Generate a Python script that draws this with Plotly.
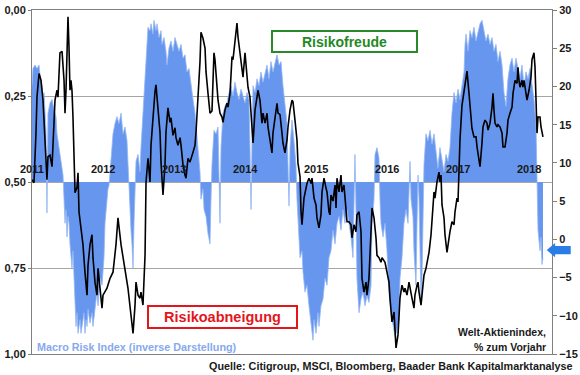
import plotly.graph_objects as go

# ---------------- data ----------------
# Welt-Aktienindex, % zum Vorjahr (right axis); time in decimal years
LINE_T = [
 2011.000,2011.028,2011.056,2011.070,2011.099,2011.127,2011.155,2011.169,2011.197,2011.211,2011.225,2011.254,2011.282,2011.310,2011.324,2011.352,2011.366,2011.394,2011.423,2011.451,2011.465,2011.479,2011.493,2011.507,2011.521,2011.535,2011.549,2011.563,2011.577,2011.592,2011.606,2011.634,2011.648,2011.662,2011.704,2011.718,2011.746,2011.775,2011.789,2011.817,2011.845,2011.859,2011.887,2011.915,2011.930,2011.958,2011.986,
 2012.000,2012.056,2012.099,2012.141,2012.183,2012.211,2012.254,2012.310,2012.352,2012.394,2012.423,2012.451,2012.465,2012.493,2012.521,2012.535,2012.563,2012.592,2012.606,2012.634,2012.662,2012.676,2012.704,2012.732,2012.746,2012.775,2012.803,2012.817,2012.831,2012.845,2012.873,2012.887,2012.915,2012.944,2012.958,2012.986,
 2013.014,2013.028,2013.056,2013.085,2013.099,2013.127,2013.155,2013.169,2013.197,2013.225,2013.268,2013.296,2013.310,2013.338,2013.366,2013.380,2013.408,2013.437,2013.451,2013.479,2013.507,2013.535,2013.549,2013.563,2013.577,2013.606,2013.620,2013.648,2013.676,2013.690,2013.718,2013.746,2013.761,2013.789,2013.817,2013.831,2013.859,2013.887,2013.901,2013.930,2013.958,2013.972,
 2014.000,2014.028,2014.042,2014.070,2014.099,2014.113,2014.127,2014.141,2014.169,2014.183,2014.211,2014.239,2014.254,2014.282,2014.310,2014.324,2014.352,2014.380,2014.394,2014.423,2014.451,2014.465,2014.493,2014.521,2014.535,2014.563,2014.592,2014.606,2014.634,2014.662,2014.676,2014.704,2014.732,2014.746,2014.775,2014.789,2014.803,2014.831,2014.859,2014.873,2014.901,2014.930,2014.944,2014.972,
 2015.000,2015.014,2015.042,2015.070,2015.085,2015.113,2015.141,2015.155,2015.183,2015.197,2015.211,2015.239,2015.268,2015.282,2015.296,2015.324,2015.352,2015.366,2015.394,2015.423,2015.437,2015.465,2015.493,2015.507,2015.535,2015.563,2015.577,2015.606,2015.634,2015.648,2015.676,2015.704,2015.718,2015.746,2015.775,2015.789,2015.817,2015.845,2015.859,2015.887,2015.915,2015.930,2015.972,
 2016.000,2016.028,2016.042,2016.070,2016.099,2016.113,2016.127,2016.155,2016.169,2016.183,2016.211,2016.239,2016.254,2016.282,2016.310,2016.324,2016.352,2016.380,2016.394,2016.423,2016.437,2016.451,2016.479,2016.507,2016.521,2016.549,2016.577,2016.592,2016.620,2016.648,2016.662,2016.676,2016.704,2016.732,2016.746,2016.761,2016.775,2016.803,2016.817,2016.845,2016.873,2016.887,2016.915,2016.944,2016.958,2016.986,
 2017.000,2017.014,2017.028,2017.056,2017.085,2017.099,2017.127,2017.155,2017.169,2017.197,2017.225,2017.254,2017.268,2017.296,2017.310,2017.338,2017.352,2017.380,2017.408,2017.423,2017.451,2017.479,2017.493,2017.507,2017.521,2017.549,2017.563,2017.592,2017.620,2017.634,2017.662,2017.690,2017.704,2017.732,2017.761,2017.775,2017.803,2017.831,2017.845,2017.859,2017.873,2017.901,2017.915,2017.930,2017.958,2017.972,
 2018.000,2018.028,2018.042,2018.070,2018.085,2018.099,2018.113,2018.127,2018.155,2018.169,2018.197,
]
LINE_V = [
 7.8,7.4,13.9,18.6,21.7,20.8,18.2,15.6,11.7,7.8,10.8,11.0,9.5,14.7,18.2,19.5,18.6,24.4,24.6,20.8,16.5,19.5,26.1,29.1,25.2,19.5,20.8,19.5,16.0,10.8,6.1,6.8,8.7,3.6,0.6,-0.7,-4.3,-7.3,-3.4,-0.7,0.6,-2.4,-5.6,-7.3,-3.8,-6.4,-9.0,
 -7.3,-6.4,-5.1,-4.3,-0.7,2.8,-0.7,-4.3,-6.4,-9.9,-12.3,-8.6,-5.6,-7.3,-7.7,-6.9,-8.6,-2.1,7.5,10.6,7.5,12.3,16.3,19.3,20.2,17.2,14.0,10.1,7.5,5.8,9.7,14.0,17.2,15.3,15.9,13.6,
 14.6,13.3,12.3,13.3,12.3,9.7,8.4,8.0,10.6,10.1,11.4,12.3,14.0,18.5,23.2,27.1,26.3,25.0,21.9,19.1,16.5,16.8,21.7,24.4,23.5,19.9,18.2,16.5,16.0,15.3,16.9,17.8,17.3,19.1,23.9,23.5,26.1,28.3,26.5,24.4,22.5,21.2,
 24.4,21.2,19.9,18.6,15.2,12.6,14.7,16.9,18.6,19.5,18.2,15.2,16.5,15.2,16.5,14.7,13.0,11.3,13.9,16.0,17.8,16.5,16.3,13.9,12.6,11.3,13.0,14.7,16.9,18.2,18.0,15.6,13.0,10.0,8.2,3.6,1.9,5.4,7.1,7.3,8.0,7.3,8.0,5.4,
 4.5,2.8,1.5,3.2,6.2,8.0,6.7,6.2,3.6,3.2,5.8,5.0,7.1,4.1,8.0,6.2,8.4,6.2,7.1,4.5,2.3,2.3,1.9,0.2,1.9,1.0,3.2,3.6,1.0,-5.1,-6.9,-5.6,-7.3,-5.1,0.2,4.1,2.8,0.2,-2.1,-2.4,-3.0,-2.4,-3.0,
 -4.3,-5.6,-7.7,-10.8,-9.5,-12.9,-14.2,-12.5,-9.9,-7.7,-6.0,-6.9,-6.4,-7.3,-5.6,-6.4,-7.7,-9.0,-7.3,-6.0,-5.6,-6.9,-8.6,-6.0,-4.7,-3.8,-2.4,-1.7,0.6,3.6,6.2,5.4,7.5,8.8,7.5,8.4,4.5,2.8,0.6,-1.7,0.6,1.0,2.3,1.9,3.6,5.4,
 4.9,8.8,13.0,17.5,19.3,20.3,22.0,19.1,17.6,14.5,13.4,13.4,12.1,10.0,9.5,12.6,14.7,15.6,15.2,14.3,15.2,17.3,19.1,16.9,15.2,14.7,15.0,14.7,13.9,12.1,12.1,13.9,15.6,16.5,17.3,19.1,20.8,20.4,22.5,20.8,19.9,20.8,19.9,20.8,19.1,18.2,
 19.5,21.2,23.5,24.4,22.5,18.2,13.9,16.0,16.0,14.7,13.4,
]

# Macro Risk Index (inverse Darstellung), left axis 0..1
BLUE_T = [
 2011.000,2011.014,2011.042,2011.070,2011.099,2011.113,2011.141,2011.155,2011.169,2011.183,2011.197,2011.211,2011.225,2011.254,2011.282,2011.310,2011.338,2011.352,2011.380,2011.408,2011.423,2011.437,2011.451,2011.465,2011.479,2011.493,2011.507,2011.521,2011.535,2011.549,2011.563,2011.577,2011.592,2011.606,2011.620,2011.634,2011.648,2011.676,2011.690,2011.704,2011.732,2011.746,2011.761,2011.775,2011.789,2011.817,2011.845,2011.859,2011.887,2011.915,2011.930,2011.958,2011.986,
 2012.014,2012.028,2012.042,2012.056,2012.070,2012.085,2012.099,2012.113,2012.141,2012.169,2012.197,2012.225,2012.254,2012.282,2012.310,2012.338,2012.352,2012.366,2012.380,2012.394,2012.408,2012.423,2012.437,2012.451,2012.465,2012.493,2012.521,2012.535,2012.563,2012.592,2012.606,2012.620,2012.634,2012.662,2012.676,2012.704,2012.718,2012.746,2012.761,2012.789,2012.817,2012.831,2012.859,2012.887,2012.901,2012.930,2012.958,2012.986,
 2013.014,2013.042,2013.070,2013.099,2013.127,2013.155,2013.183,2013.211,2013.239,2013.268,2013.296,2013.324,2013.352,2013.366,2013.380,2013.408,2013.423,2013.451,2013.479,2013.507,2013.521,2013.535,2013.563,2013.592,2013.620,2013.634,2013.648,2013.662,2013.690,2013.718,2013.746,2013.775,2013.803,2013.831,2013.859,2013.887,2013.915,2013.944,2013.972,
 2014.000,2014.028,2014.056,2014.070,2014.085,2014.099,2014.113,2014.141,2014.169,2014.197,2014.225,2014.254,2014.282,2014.310,2014.338,2014.366,2014.394,2014.423,2014.451,2014.479,2014.507,2014.535,2014.563,2014.592,2014.606,2014.620,2014.634,2014.662,2014.690,2014.718,2014.732,2014.761,2014.775,2014.803,2014.817,2014.845,2014.873,2014.901,2014.930,2014.958,2014.972,
 2015.000,2015.028,2015.042,2015.070,2015.099,2015.127,2015.155,2015.183,2015.211,2015.239,2015.268,2015.296,2015.324,2015.352,2015.380,2015.408,2015.437,2015.465,2015.493,2015.521,2015.535,2015.549,2015.563,2015.577,2015.606,2015.634,2015.662,2015.690,2015.718,2015.746,2015.775,2015.789,2015.817,2015.831,2015.859,2015.887,2015.901,2015.915,2015.944,2015.972,
 2016.000,2016.028,2016.056,2016.085,2016.113,2016.141,2016.169,2016.183,2016.211,2016.239,2016.268,2016.296,2016.310,2016.324,2016.338,2016.366,2016.380,2016.408,2016.423,2016.437,2016.451,2016.465,2016.479,2016.493,2016.507,2016.521,2016.549,2016.577,2016.606,2016.634,2016.662,2016.690,2016.718,2016.746,2016.775,2016.803,2016.831,2016.859,2016.887,2016.915,2016.944,2016.972,
 2017.000,2017.028,2017.056,2017.085,2017.099,2017.113,2017.141,2017.169,2017.197,2017.225,2017.254,2017.282,2017.310,2017.338,2017.366,2017.394,2017.423,2017.451,2017.479,2017.507,2017.535,2017.563,2017.592,2017.620,2017.648,2017.676,2017.704,2017.732,2017.761,2017.789,2017.817,2017.845,2017.873,2017.901,2017.930,2017.958,2017.986,
 2018.014,2018.042,2018.070,2018.099,2018.113,2018.127,2018.155,2018.169,2018.183,2018.197,
]
BLUE_V = [
 0.22,0.17,0.16,0.17,0.16,0.19,0.22,0.26,0.24,0.28,0.35,0.59,0.30,0.27,0.26,0.29,0.31,0.36,0.40,0.43,0.46,0.48,0.55,0.62,0.58,0.66,0.60,0.62,0.68,0.72,0.75,0.70,0.78,0.85,0.92,0.88,0.94,0.90,0.94,0.92,0.88,0.94,0.90,0.92,0.87,0.91,0.88,0.92,0.86,0.82,0.86,0.78,0.80,
 0.72,0.62,0.58,0.55,0.52,0.51,0.47,0.42,0.36,0.33,0.31,0.33,0.30,0.36,0.34,0.38,0.45,0.55,0.60,0.64,0.68,0.75,0.62,0.50,0.44,0.42,0.47,0.40,0.30,0.20,0.12,0.08,0.05,0.06,0.04,0.07,0.03,0.06,0.04,0.08,0.06,0.10,0.08,0.12,0.16,0.11,0.09,0.12,
 0.08,0.10,0.12,0.10,0.14,0.13,0.18,0.17,0.22,0.26,0.30,0.36,0.42,0.47,0.55,0.52,0.58,0.60,0.65,0.68,0.55,0.45,0.35,0.36,0.34,0.52,0.62,0.40,0.30,0.28,0.27,0.24,0.22,0.25,0.21,0.24,0.26,0.23,0.25,
 0.27,0.24,0.26,0.40,0.58,0.38,0.22,0.24,0.20,0.22,0.18,0.21,0.18,0.16,0.20,0.15,0.18,0.15,0.13,0.16,0.15,0.22,0.28,0.33,0.45,0.57,0.40,0.32,0.38,0.45,0.55,0.65,0.72,0.70,0.76,0.82,0.80,0.86,0.92,0.96,0.90,
 0.94,0.88,0.92,0.86,0.84,0.78,0.80,0.72,0.70,0.64,0.68,0.62,0.60,0.64,0.58,0.62,0.58,0.62,0.66,0.72,0.60,0.42,0.58,0.78,0.88,0.84,0.82,0.86,0.83,0.85,0.80,0.62,0.55,0.42,0.40,0.43,0.55,0.62,0.66,0.62,
 0.70,0.82,0.88,0.92,0.95,0.93,0.90,0.78,0.72,0.62,0.58,0.62,0.52,0.44,0.55,0.60,0.70,0.80,0.62,0.48,0.55,0.70,0.85,0.78,0.62,0.45,0.36,0.38,0.35,0.39,0.36,0.42,0.46,0.40,0.44,0.47,0.42,0.44,0.40,0.30,0.24,0.27,
 0.23,0.26,0.22,0.18,0.10,0.07,0.12,0.06,0.08,0.05,0.09,0.06,0.04,0.03,0.06,0.09,0.07,0.10,0.08,0.12,0.10,0.15,0.12,0.16,0.24,0.28,0.20,0.16,0.14,0.18,0.14,0.17,0.20,0.16,0.22,0.18,0.20,
 0.17,0.22,0.26,0.34,0.52,0.64,0.70,0.66,0.74,0.72,
]

YEARS = [2011, 2012, 2013, 2014, 2015, 2016, 2017, 2018]
LEFT_TICKS = [0, 0.25, 0.5, 0.75, 1]
LEFT_TEXT = ["0,00", "0,25", "0,50", "0,75", "1,00"]
BASELINE = 0.5

assert len(LINE_T) == len(LINE_V), (len(LINE_T), len(LINE_V))
assert len(BLUE_T) == len(BLUE_V), (len(BLUE_T), len(BLUE_V))

FONT = "Liberation Sans, Arial, sans-serif"
AXC = "#7f7f7f"

fig = go.Figure()
fig.add_trace(go.Scatter(x=BLUE_T, y=[BASELINE] * len(BLUE_T), mode="lines",
                         line=dict(width=0, color="rgba(0,0,0,0)"),
                         hoverinfo="skip", showlegend=False, yaxis="y"))
fig.add_trace(go.Scatter(x=BLUE_T, y=BLUE_V, mode="lines",
                         line=dict(width=0.8, color="#94b6f2"),
                         fill="tonexty", fillcolor="rgb(102,150,238)",
                         showlegend=False, yaxis="y"))
fig.add_trace(go.Scatter(x=LINE_T, y=LINE_V, mode="lines",
                         line=dict(color="black", width=1.6),
                         showlegend=False, yaxis="y2"))

tickfont = dict(family=FONT, size=11, color="#1a1a1a", weight="bold")

fig.update_layout(
    width=580, height=375,
    margin=dict(l=32, r=28, t=10, b=21, autoexpand=False),
    paper_bgcolor="white", plot_bgcolor="white",
    showlegend=False,
    font=dict(family=FONT),
    xaxis=dict(range=[2011, 2018.324], showticklabels=False, ticks="",
               showgrid=False, zeroline=False, showline=True, mirror=True,
               linecolor=AXC, linewidth=1, automargin=False),
    yaxis=dict(range=[1, 0], tickvals=LEFT_TICKS, ticktext=LEFT_TEXT,
               showgrid=True, gridcolor="#a6a6a6", gridwidth=1,
               zeroline=False, showline=True, linecolor=AXC, linewidth=1,
               ticks="outside", ticklen=3, tickcolor=AXC, tickfont=tickfont,
               automargin=False),
    yaxis2=dict(overlaying="y", side="right", range=[-15, 30], tick0=0, dtick=5,
                showgrid=False, zeroline=False, showline=True, linecolor=AXC,
                linewidth=1, ticks="outside", ticklen=4, tickcolor=AXC,
                tickfont=tickfont, automargin=False),
)

ann = []
for yr in YEARS:
    ann.append(dict(x=yr, y=BASELINE, xref="x", yref="y", text=str(yr),
                    showarrow=False, yshift=13, xanchor="center", yanchor="middle",
                    font=dict(family=FONT, size=11, color="#1a1a1a", weight="bold")))

ann.append(dict(x=0.601, y=0.908, xref="paper", yref="paper", text="Risikofreude",
                showarrow=False, xanchor="center", yanchor="middle",
                width=141, height=17, borderwidth=2, bordercolor="#2a8a2a", borderpad=1,
                bgcolor="white",
                font=dict(family=FONT, size=14, color="#1f8a1f", weight="bold")))
ann.append(dict(x=0.366, y=0.1076, xref="paper", yref="paper", text="Risikoabneigung",
                showarrow=False, xanchor="center", yanchor="middle",
                width=145, height=18, borderwidth=2, bordercolor="#e3161c", borderpad=1,
                bgcolor="white",
                font=dict(family=FONT, size=14.5, color="#e3161c", weight="bold")))
ann.append(dict(x=0.006, y=0.020, xref="paper", yref="paper",
                text="Macro Risk Index (inverse Darstellung)",
                showarrow=False, xanchor="left", yanchor="middle",
                font=dict(family=FONT, size=10.8, color="#86a9ee", weight="bold")))
ann.append(dict(x=0.992, y=0.064, xref="paper", yref="paper", text="Welt-Aktienindex,",
                showarrow=False, xanchor="right", yanchor="middle",
                font=dict(family=FONT, size=10.5, color="#1a1a1a", weight="bold")))
ann.append(dict(x=0.992, y=0.020, xref="paper", yref="paper", text="% zum Vorjahr",
                showarrow=False, xanchor="right", yanchor="middle",
                font=dict(family=FONT, size=10.5, color="#1a1a1a", weight="bold")))
ann.append(dict(x=1.044, y=-0.035, xref="paper", yref="paper",
                text="Quelle: Citigroup, MSCI, Bloomberg, Baader Bank Kapitalmarktanalyse",
                showarrow=False, xanchor="right", yanchor="middle",
                font=dict(family=FONT, size=10.8, color="#1a1a1a", weight="bold")))
fig.update_layout(annotations=ann)

# blue arrow pointing at the latest reading
fig.add_shape(type="path", xref="paper", yref="paper",
              path="M 0.990,0.302 L 1.006,0.323 L 1.006,0.314 L 1.036,0.314 "
                   "L 1.036,0.290 L 1.006,0.290 L 1.006,0.281 Z",
              fillcolor="#2a7de6", line=dict(width=0))

fig.write_html(
    "out.html",
    config={"displayModeBar": False},
    post_script="document.body.style.margin='0px';document.body.style.overflow='hidden';",
)
